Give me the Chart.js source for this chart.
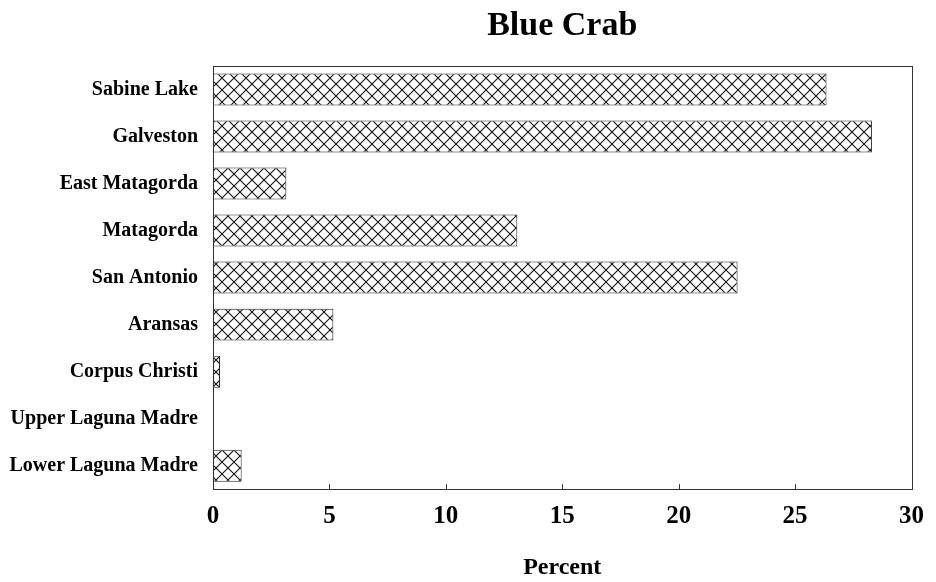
<!DOCTYPE html>
<html><head><meta charset="utf-8">
<script src="https://cdn.jsdelivr.net/npm/chart.js@4.4.1/dist/chart.umd.min.js"></script>
<style>html,body{margin:0;padding:0;background:#fff}#wrap{width:936px;height:582px}</style>
</head><body><div id="wrap"><canvas id="c" width="936" height="582"></canvas></div>
<script>
const categories = ['Sabine Lake','Galveston','East Matagorda','Matagorda','San Antonio','Aransas','Corpus Christi','Upper Laguna Madre','Lower Laguna Madre'];
const percentValues = [26.35, 28.3, 3.15, 13.07, 22.53, 5.17, 0.3, 0, 1.23];
const xTickValues = [0, 5, 10, 15, 20, 25, 30];
const chartTitle = 'Blue Crab';
const xAxisTitle = 'Percent';

const FONT = "'Liberation Serif', 'Times New Roman', serif";

function makeHatchTile() {
  const s = 12;
  const pc = document.createElement('canvas');
  pc.width = s; pc.height = s;
  const g = pc.getContext('2d');
  g.fillStyle = '#fff';
  g.fillRect(0, 0, s, s);
  g.strokeStyle = '#111';
  g.lineWidth = 1.1;
  g.beginPath();
  g.moveTo(0, 0); g.lineTo(s, s);
  g.moveTo(s, 0); g.lineTo(0, s);
  g.stroke();
  return pc;
}
const ctx = document.getElementById('c').getContext('2d');
const hatch = ctx.createPattern(makeHatchTile(), 'repeat');

const framePlugin = {
  id: 'frame',
  afterDraw(chart) {
    const { ctx, chartArea: a, scales } = chart;
    ctx.save();
    ctx.strokeStyle = '#333';
    ctx.lineWidth = 1;
    ctx.strokeRect(Math.round(a.left) + 0.5, Math.round(a.top) + 0.5, Math.round(a.right - a.left), Math.round(a.bottom - a.top));
    const xs = scales.x;
    ctx.beginPath();
    xTickValues.forEach(v => {
      const px = Math.round(xs.getPixelForValue(v)) + 0.5;
      ctx.moveTo(px, a.bottom);
      ctx.lineTo(px, a.bottom - 5);
    });
    ctx.stroke();
    ctx.fillStyle = '#000';
    ctx.font = 'bold 34px ' + FONT;
    ctx.textAlign = 'center';
    ctx.textBaseline = 'middle';
    ctx.fillText(chartTitle, (a.left + a.right) / 2, 26);
    ctx.restore();
  }
};

new Chart(ctx, {
  type: 'bar',
  data: {
    labels: categories,
    datasets: [{
      data: percentValues,
      backgroundColor: hatch,
      borderColor: '#222',
      borderWidth: 1,
      borderSkipped: false,
      barPercentage: 0.68,
      categoryPercentage: 1.0
    }]
  },
  options: {
    indexAxis: 'y',
    responsive: false,
    animation: false,
    layout: { padding: { top: 66, right: 16, left: 0, bottom: 0 } },
    plugins: { legend: { display: false }, title: { display: false }, tooltip: { enabled: false } },
    scales: {
      x: {
        min: 0, max: 30,
        afterBuildTicks(scale) { scale.ticks = xTickValues.map(v => ({ value: v })); },
        grid: { display: false, drawTicks: false },
        border: { display: false },
        ticks: { color: '#000', padding: 12, font: { family: FONT, size: 25, weight: 'bold' } },
        title: { display: true, text: xAxisTitle, color: '#000', padding: { top: 10, bottom: 0 }, font: { family: FONT, size: 24, weight: 'bold' } }
      },
      y: {
        grid: { display: false, drawTicks: false },
        border: { display: false },
        afterFit(scale) { scale.width = 213; },
        ticks: { color: '#000', padding: 15, font: { family: FONT, size: 20, weight: 'bold' } }
      }
    }
  },
  plugins: [framePlugin]
});
</script>
</body></html>
